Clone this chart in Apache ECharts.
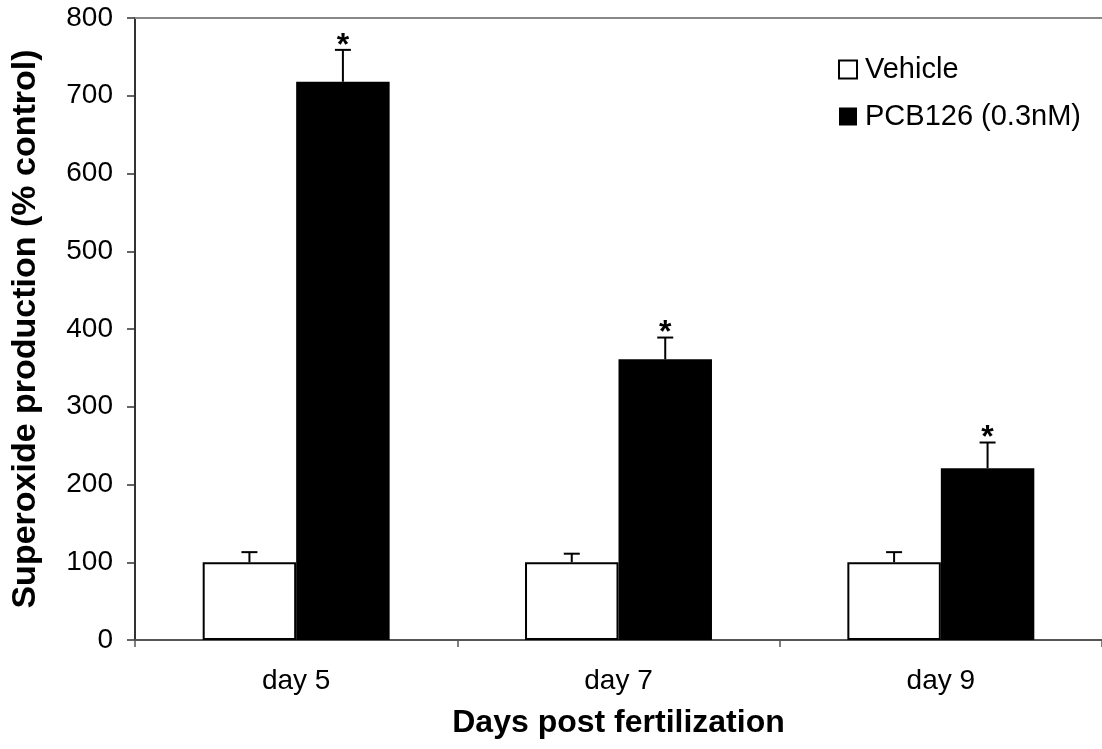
<!DOCTYPE html>
<html>
<head>
<meta charset="utf-8">
<script src="https://cdn.jsdelivr.net/npm/echarts@6/dist/echarts.min.js"></script>
<style>
  html, body { margin: 0; padding: 0; background: #fff; }
  #chart { width: 1102px; height: 749px; }
</style>
</head>
<body>
<div id="chart"></div>
<script>
// Superoxide production by day, vehicle vs PCB126
const categories = ['day 5', 'day 7', 'day 9'];
const vehicle = [100, 100, 100];
const vehicleErr = [13, 11, 13];
const pcb = [718, 361, 221];
const pcbErr = [41, 28, 33];
const pcbSignificant = [true, true, true];
const yTicks = [0, 100, 200, 300, 400, 500, 600, 700, 800];

const FONT = 'Arial, "Liberation Sans", sans-serif';
const CAT_GAP = 0.42;

// Upper error whisker (plus optional significance star) drawn beside each bar
function errorRenderer(side, stars) {
  return function (params, api) {
    const i = api.value(0);
    const v = api.value(1);
    const e = api.value(2);
    const base = api.coord([i, v]);
    const top = api.coord([i, v + e]);
    const band = api.size([1, 0])[0];
    const bw = band * (1 - CAT_GAP) / 2;
    const x = base[0] + side * bw / 2;
    const style = { stroke: '#000', lineWidth: 2 };
    const children = [
      { type: 'line', shape: { x1: x, y1: base[1], x2: x, y2: top[1] }, style },
      { type: 'line', shape: { x1: x - 8, y1: top[1], x2: x + 8, y2: top[1] }, style }
    ];
    if (stars && stars[params.dataIndex]) {
      children.push({
        type: 'text',
        style: {
          text: '*', x: x, y: top[1] + 12,
          align: 'center', verticalAlign: 'bottom',
          font: 'bold 32px ' + FONT, fill: '#000'
        }
      });
    }
    return { type: 'group', children };
  };
}

const chart = echarts.init(document.getElementById('chart'));
chart.setOption({
  animation: false,
  backgroundColor: '#fff',
  grid: { left: 135, top: 18, width: 968, height: 622, containLabel: false },
  legend: {
    orient: 'vertical',
    left: 833, top: 50,
    itemWidth: 18, itemHeight: 18, itemGap: 18,
    icon: 'rect',
    textStyle: { fontFamily: FONT, fontSize: 29, color: '#000', padding: [0, 0, 0, 3] },
    data: ['Vehicle', 'PCB126 (0.3nM)']
  },
  xAxis: [{
    type: 'category',
    data: categories,
    axisLine: { lineStyle: { color: '#555', width: 2 } },
    axisTick: { show: true, length: 7, lineStyle: { color: '#555', width: 1.5 } },
    axisLabel: { fontFamily: FONT, fontSize: 28, color: '#000', margin: 27 },
    name: 'Days post fertilization',
    nameLocation: 'middle',
    nameGap: 67,
    nameTextStyle: { fontFamily: FONT, fontSize: 32, fontWeight: 'bold', color: '#000' }
  }, {
    type: 'category',
    data: categories,
    position: 'top',
    axisLine: { lineStyle: { color: '#888', width: 2 } },
    axisTick: { show: false },
    axisLabel: { show: false }
  }],
  yAxis: {
    type: 'value',
    min: yTicks[0], max: yTicks[yTicks.length - 1], interval: 100,
    axisLine: { show: true, lineStyle: { color: '#333', width: 2 } },
    axisTick: { show: true, length: 8, lineStyle: { color: '#333', width: 1.5 } },
    splitLine: { show: false },
    axisLabel: { fontFamily: FONT, fontSize: 28, color: '#000', margin: 22 },
    name: 'Superoxide production (% control)',
    nameLocation: 'middle',
    nameGap: 92,
    nameTextStyle: { fontFamily: FONT, fontSize: 34, fontWeight: 'bold', color: '#000' }
  },
  series: [
    {
      name: 'Vehicle', type: 'bar', data: vehicle,
      barGap: '0%', barCategoryGap: (CAT_GAP * 100) + '%',
      itemStyle: { color: '#fff', borderColor: '#000', borderWidth: 2 }
    },
    {
      name: 'PCB126 (0.3nM)', type: 'bar', data: pcb,
      barGap: '0%', barCategoryGap: (CAT_GAP * 100) + '%',
      itemStyle: { color: '#000' }
    },
    {
      name: 'vehicle-error', type: 'custom', z: 5,
      renderItem: errorRenderer(-1, null),
      data: vehicle.map((v, i) => [i, v, vehicleErr[i]])
    },
    {
      name: 'pcb-error', type: 'custom', z: 5,
      renderItem: errorRenderer(1, pcbSignificant),
      data: pcb.map((v, i) => [i, v, pcbErr[i]])
    }
  ]
});
</script>
</body>
</html>
